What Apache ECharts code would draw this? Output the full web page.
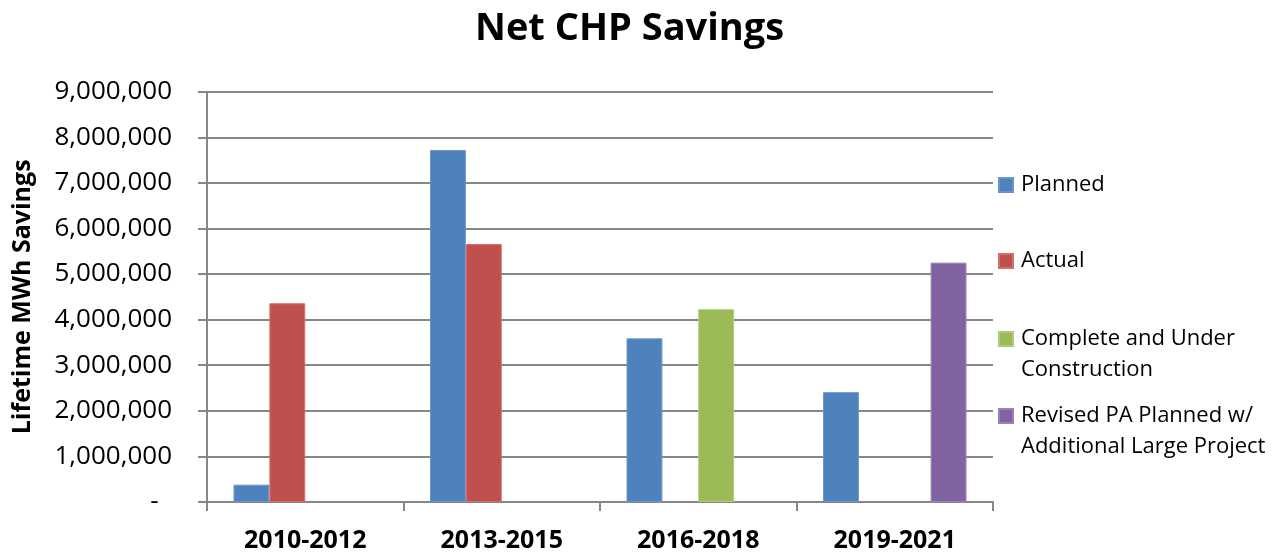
<!DOCTYPE html>
<html>
<head>
<meta charset="utf-8">
<script src="https://cdn.jsdelivr.net/npm/echarts@6/dist/echarts.min.js"></script>
<style>
html,body{margin:0;padding:0;background:#fff;}
#chart{width:1282px;height:553px;}
</style>
</head>
<body>
<div id="chart"></div>
<script>
const categories = ['2010-2012', '2013-2015', '2016-2018', '2019-2021'];
const seriesNames = ['Planned', 'Actual', 'Complete and Under Construction', 'Revised PA Planned w/ Additional Large Project'];
const legendLines = {
  'Planned': 'Planned',
  'Actual': 'Actual',
  'Complete and Under Construction': '\nComplete and Under\nConstruction',
  'Revised PA Planned w/ Additional Large Project': '\nRevised PA Planned w/\nAdditional Large Project'
};
const planned = [380000, 7720000, 3590000, 2410000];
const actual = [4360000, 5660000, null, null];
const completeUnder = [null, null, 4230000, null];
const revised = [null, null, null, 5250000];
const yTicks = [0, 9000000, 1000000];

const colors = ['#4F81BD', '#C0504D', '#9BBB59', '#8064A2'];
const borders = ['#6a95cc', '#d46e6b', '#b0cc78', '#9880b8'];
const values = [planned, actual, completeUnder, revised];
const FONT = '"Open Sans", sans-serif';

function fmt(v) {
  if (v === 0) return '-  ';
  return v.toString().replace(/\B(?=(\d{3})+(?!\d))/g, ',');
}

const legendTops = [169.5, 245.5, 292.5, 369.5];

const chart = echarts.init(document.getElementById('chart'), null, {renderer: 'canvas'});
chart.setOption({
  animation: false,
  backgroundColor: '#fff',
  title: {
    text: 'Net CHP Savings',
    left: 475,
    top: 10,
    padding: 0,
    textStyle: {fontFamily: FONT, fontWeight: 'bold', fontSize: 38, color: '#000'}
  },
  legend: seriesNames.map((n, i) => ({
    data: [n],
    orient: 'vertical',
    left: 998,
    top: legendTops[i],
    padding: 0,
    itemWidth: 14,
    itemHeight: 14,
    icon: 'rect',
    selectedMode: false,
    formatter: name => legendLines[name],
    textStyle: {fontFamily: FONT, fontSize: 22, color: '#000', lineHeight: 31, padding: [0, 0, 0, 3]}
  })),
  grid: {left: 207, right: 289, top: 91.7, bottom: 49.7, containLabel: false},
  xAxis: {
    type: 'category',
    data: categories,
    axisLine: {show: true, lineStyle: {color: '#878787', width: 2}},
    axisTick: {show: true, length: 9, lineStyle: {color: '#878787', width: 2}},
    axisLabel: {fontFamily: FONT, fontWeight: 'bold', fontSize: 25, color: '#000', margin: 26}
  },
  yAxis: {
    type: 'value',
    min: yTicks[0],
    max: yTicks[1],
    interval: yTicks[2],
    name: 'Lifetime MWh Savings',
    nameLocation: 'middle',
    nameRotate: 90,
    nameGap: 172,
    nameTextStyle: {fontFamily: FONT, fontWeight: 'bold', fontSize: 25, color: '#000'},
    axisLine: {show: true, lineStyle: {color: '#878787', width: 2}},
    axisTick: {show: true, length: 9, lineStyle: {color: '#878787', width: 2}},
    splitLine: {show: true, lineStyle: {color: '#878787', width: 2}},
    axisLabel: {fontFamily: FONT, fontSize: 26, color: '#000', margin: 35, formatter: fmt}
  },
  series: seriesNames.map((n, i) => ({
    name: n,
    type: 'bar',
    data: values[i],
    barGap: '0%',
    barCategoryGap: '27%',
    itemStyle: {color: colors[i], borderColor: borders[i], borderWidth: 1}
  }))
});
</script>
</body>
</html>
